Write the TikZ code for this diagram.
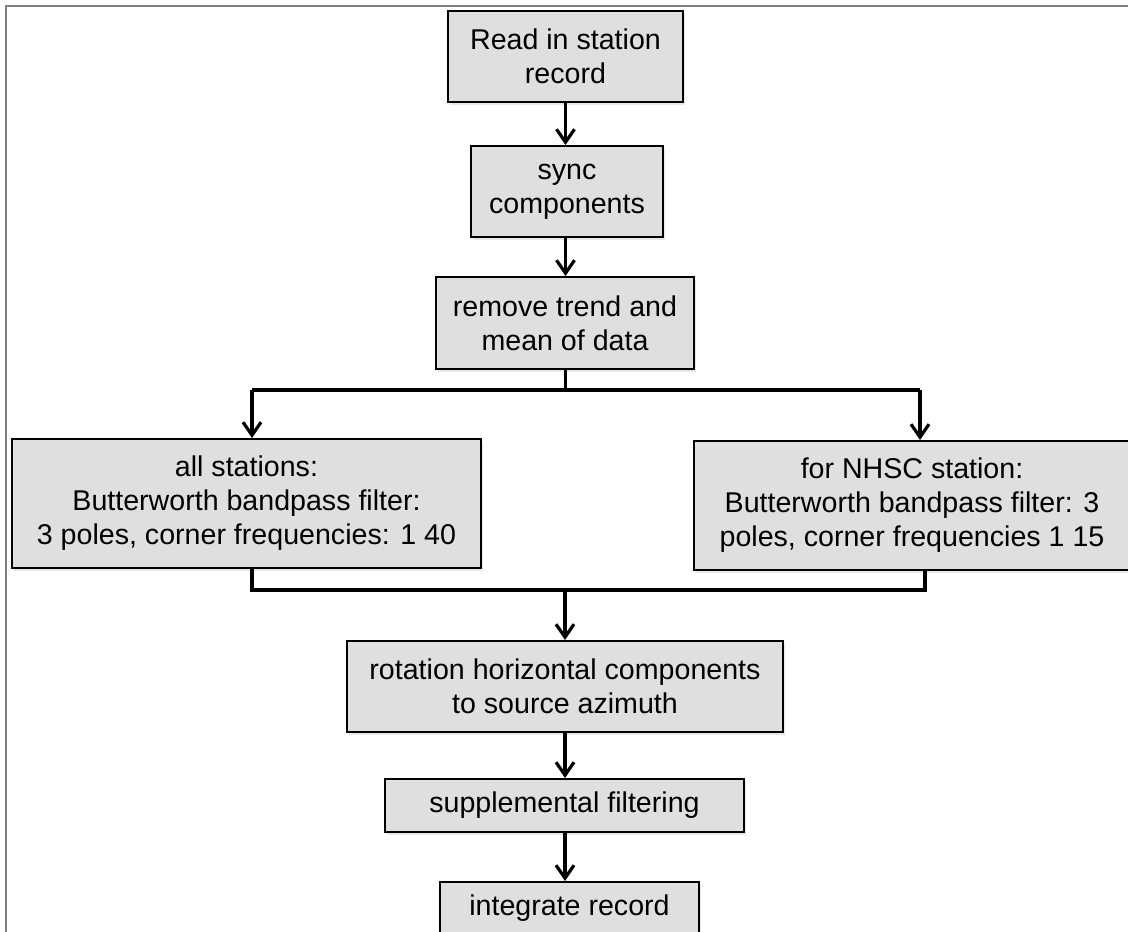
\documentclass[tikz,border=0pt]{standalone}
\usepackage{fontspec}
\setmainfont{Liberation Sans}
\usepackage{tikz}
\usetikzlibrary{arrows.meta,positioning,shadows}
\usepackage{xcolor}
\definecolor{boxfill}{RGB}{223,223,223}
\definecolor{framegray}{RGB}{128,128,128}

\begin{document}
\begin{tikzpicture}[
  x=0.5pt, y=-0.5pt,
  every node/.style={font=\fontsize{14.3pt}{17pt}\selectfont},
  stepbox/.style={draw=black, line width=1pt, fill=boxfill, inner sep=0pt, align=center,
    drop shadow={opacity=0.18, shadow xshift=1pt, shadow yshift=-1.5pt}},
  line/.style={line width=1.6pt, black},
  arr/.style={line, -{Straight Barb[length=6.5pt, width=9pt]}},
]
\useasboundingbox (0,0) rectangle (1128,931);
\clip (0,0) rectangle (1128,931);
\draw[framegray, line width=1pt] (6,6) rectangle (1140,945);

\node[stepbox, minimum width=117.5pt, minimum height=45.5pt] (read) at (565.5, 56.5) {Read in station\\record};
\node[stepbox, minimum width=96pt, minimum height=45.5pt] (sync) at (567, 191.5) {sync\\components};
\node[stepbox, minimum width=129pt, minimum height=46pt] (trend) at (565, 323) {remove trend and\\mean of data};
\node[stepbox, minimum width=234.5pt, minimum height=64.5pt] (allst) at (246.5, 503.5) {all stations:\\Butterworth bandpass filter:\\3 poles, corner frequencies: 1 40};
\node[stepbox, minimum width=218pt, minimum height=64.5pt] (nhsc) at (912, 505.5) {for NHSC station:\\Butterworth bandpass filter: 3\\poles, corner frequencies 1 15};
\node[stepbox, minimum width=218pt, minimum height=45.5pt] (rot) at (565, 686.5) {rotation horizontal components\\to source azimuth};
\node[stepbox, minimum width=179.5pt, minimum height=26.5pt] (supp) at (564.5, 805.5) {supplemental filtering};
\node[stepbox, minimum width=129.5pt, minimum height=26.5pt] (integ) at (569.5, 908.5) {integrate record};

\coordinate (splitL) at (252, 390);
\coordinate (splitR) at (920, 390);
\coordinate (joinL) at (252, 590);
\coordinate (joinR) at (925, 590);

\draw[arr] (read.south) -- (read.south |- sync.north);
\draw[arr] (read.south |- sync.south) -- (read.south |- trend.north);
\draw[line] (read.south |- trend.south) -- (read.south |- splitL);
\draw[line] (splitL) -- (splitR);
\draw[arr] (splitL) -- (splitL |- allst.north);
\draw[arr] (splitR) -- (splitR |- nhsc.north);
\draw[line] (joinL |- allst.south) -- (joinL) -- (joinR) -- (joinR |- nhsc.south);
\draw[arr] (rot.north |- joinL) -- (rot.north);
\draw[arr] (rot.south) -- (rot.south |- supp.north);
\draw[arr] (rot.south |- supp.south) -- (rot.south |- integ.north);
\end{tikzpicture}
\end{document}
